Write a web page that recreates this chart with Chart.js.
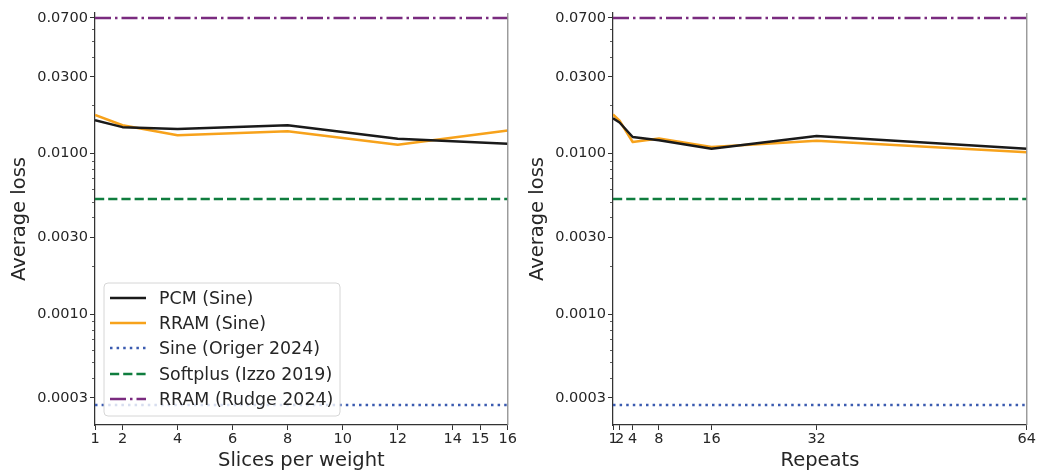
<!DOCTYPE html>
<html>
<head>
<meta charset="utf-8">
<script src="https://cdn.jsdelivr.net/npm/chart.js@4.4.1/dist/chart.umd.min.js"></script>
<style>
  html, body { margin: 0; padding: 0; background: #ffffff; }
  #wrap { position: relative; width: 1037px; height: 473px; }
  .box { position: absolute; top: 0; height: 473px; }
</style>
</head>
<body>
<div id="wrap">
  <div class="box" style="left:0;width:518px"><canvas id="c1"></canvas></div>
  <div class="box" style="left:518px;width:519px"><canvas id="c2"></canvas></div>
</div>
<script>
// ---------- data ----------
const slices = [1, 2, 4, 8, 12, 16];
const pcmSlices = [0.0161, 0.0146, 0.0142, 0.0150, 0.01236, 0.0115];
const rramSlices = [0.0174, 0.0150, 0.0130, 0.01375, 0.01136, 0.0139];

const repeats = [1, 2, 4, 8, 16, 32, 64];
const pcmRepeats = [0.0166, 0.0156, 0.01267, 0.0121, 0.0107, 0.01285, 0.0107];
const rramRepeats = [0.0175, 0.0160, 0.0118, 0.0124, 0.0110, 0.0120, 0.0102];

const origer2024 = 0.000271;
const izzo2019 = 0.00521;
const rudge2024 = 0.07;

const slicesTicks = [1, 2, 4, 6, 8, 10, 12, 14, 15, 16];
const repeatsTicks = [1, 2, 4, 8, 16, 32, 64];
const yTicks = [0.0003, 0.001, 0.003, 0.01, 0.03, 0.07];

const labels = ['PCM (Sine)', 'RRAM (Sine)', 'Sine (Origer 2024)', 'Softplus (Izzo 2019)', 'RRAM (Rudge 2024)'];

// ---------- styles ----------
const FONT = "'DejaVu Sans', sans-serif";
const TXT = '#262626';
const styles = [
  { color: '#1a1a1a', width: 2.5, dash: [] },
  { color: '#f7a21b', width: 2.5, dash: [] },
  { color: '#3b5bb0', width: 2.5, dash: [2.5, 4.1] },
  { color: '#0f7d3e', width: 2.5, dash: [9.2, 4] },
  { color: '#7a2b7f', width: 2.5, dash: [16, 4, 2.5, 4] }
];
const Y_MIN = 0.0002034, Y_MAX = 0.0751;

function pts(xs, ys) { return xs.map((x, i) => ({ x: x, y: ys[i] })); }
function hline(xmin, xmax, v) { return [{ x: xmin, y: v }, { x: xmax, y: v }]; }

function makeDatasets(xs, pcm, rram, xmin, xmax) {
  const data = [pts(xs, pcm), pts(xs, rram), hline(xmin, xmax, origer2024), hline(xmin, xmax, izzo2019), hline(xmin, xmax, rudge2024)];
  return data.map((d, i) => ({
    label: labels[i],
    data: d,
    borderColor: styles[i].color,
    backgroundColor: styles[i].color,
    borderWidth: styles[i].width,
    borderDash: styles[i].dash,
    borderCapStyle: 'butt',
    borderJoinStyle: 'round',
    pointRadius: 0,
    tension: 0,
    fill: false
  }));
}

// minor ticks + right spine
const decorPlugin = {
  id: 'decor',
  afterDraw(chart) {
    const ctx = chart.ctx, y = chart.scales.y, a = chart.chartArea;
    ctx.save();
    ctx.strokeStyle = '#333333';
    ctx.lineWidth = 0.8;
    for (let d = -4; d <= -1; d++) {
      for (let k = 2; k <= 9; k++) {
        const v = k * Math.pow(10, d);
        if (v < Y_MIN || v > Y_MAX) continue;
        if (yTicks.some(t => Math.abs(t - v) / v < 1e-6)) continue;
        const p = Math.round(y.getPixelForValue(v)) + 0.5;
        ctx.beginPath(); ctx.moveTo(a.left - 3, p); ctx.lineTo(a.left, p); ctx.stroke();
      }
    }
    ctx.strokeStyle = '#8a8a8a';
    ctx.lineWidth = 1.25;
    ctx.beginPath(); ctx.moveTo(a.right, a.top); ctx.lineTo(a.right, a.bottom); ctx.stroke();
    ctx.restore();
  }
};

const legendPlugin = {
  id: 'boxLegend',
  afterDraw(chart) {
    if (!chart.options.plugins.boxLegend || !chart.options.plugins.boxLegend.show) return;
    const ctx = chart.ctx;
    const x0 = 104, y0 = 283, w = 236, h = 133, r = 4;
    ctx.save();
    ctx.beginPath();
    ctx.moveTo(x0 + r, y0);
    ctx.arcTo(x0 + w, y0, x0 + w, y0 + h, r);
    ctx.arcTo(x0 + w, y0 + h, x0, y0 + h, r);
    ctx.arcTo(x0, y0 + h, x0, y0, r);
    ctx.arcTo(x0, y0, x0 + w, y0, r);
    ctx.closePath();
    ctx.fillStyle = 'rgba(255,255,255,0.8)';
    ctx.fill();
    ctx.strokeStyle = '#d6d6d6';
    ctx.lineWidth = 1;
    ctx.stroke();
    const rows = [298, 323, 348, 374, 399];
    chart.data.datasets.forEach((ds, i) => {
      const yy = rows[i];
      ctx.beginPath();
      ctx.setLineDash(ds.borderDash || []);
      ctx.strokeStyle = ds.borderColor;
      ctx.lineWidth = ds.borderWidth;
      ctx.lineCap = 'butt';
      ctx.moveTo(110, yy); ctx.lineTo(146, yy);
      ctx.stroke();
      ctx.setLineDash([]);
      ctx.fillStyle = TXT;
      ctx.font = '17.4px ' + FONT;
      ctx.textBaseline = 'middle';
      ctx.textAlign = 'left';
      ctx.fillText(ds.label, 159, yy + 1);
    });
    ctx.restore();
  }
};

function makeChart(id, xs, pcm, rram, xmin, xmax, xticks, xtitle, showLegend, rightPad) {
  return new Chart(document.getElementById(id), {
    type: 'line',
    data: { datasets: makeDatasets(xs, pcm, rram, xmin, xmax) },
    options: {
      responsive: true,
      maintainAspectRatio: false,
      animation: false,
      layout: { padding: { left: 0, right: rightPad, top: 13, bottom: 0 } },
      plugins: {
        legend: { display: false },
        tooltip: { enabled: false },
        boxLegend: { show: showLegend }
      },
      scales: {
        x: {
          type: 'linear',
          min: xmin, max: xmax,
          afterBuildTicks(s) { s.ticks = xticks.map(v => ({ value: v })); },
          afterFit(s) { s.height = 48; },
          ticks: {
            autoSkip: false, maxRotation: 0, color: TXT, padding: 1,
            font: { family: FONT, size: 14.5 },
            callback: v => String(v)
          },
          grid: { drawOnChartArea: false, drawTicks: true, tickLength: 5, tickColor: '#333333', tickWidth: 1 },
          border: { display: true, color: '#333333', width: 1.25 },
          title: { display: true, text: xtitle, color: TXT, font: { family: FONT, size: 19.5 }, padding: { top: 0, bottom: 0 } }
        },
        y: {
          type: 'logarithmic',
          min: Y_MIN, max: Y_MAX,
          afterBuildTicks(s) { s.ticks = yTicks.map(v => ({ value: v })); },
          afterFit(s) { s.width = 95; },
          ticks: {
            autoSkip: false, color: TXT, padding: 2,
            font: { family: FONT, size: 14.5 },
            callback: v => Number(v).toFixed(4)
          },
          grid: { drawOnChartArea: false, drawTicks: true, tickLength: 5, tickColor: '#333333', tickWidth: 1 },
          border: { display: true, color: '#333333', width: 1.25 },
          title: { display: true, text: 'Average loss', color: TXT, font: { family: FONT, size: 19.5 }, padding: { top: 8, bottom: 0 } }
        }
      }
    },
    plugins: [decorPlugin, legendPlugin]
  });
}

makeChart('c1', slices, pcmSlices, rramSlices, 1, 16, slicesTicks, 'Slices per weight', true, 9);
makeChart('c2', repeats, pcmRepeats, rramRepeats, 1, 64, repeatsTicks, 'Repeats', false, 9);
</script>
</body>
</html>
